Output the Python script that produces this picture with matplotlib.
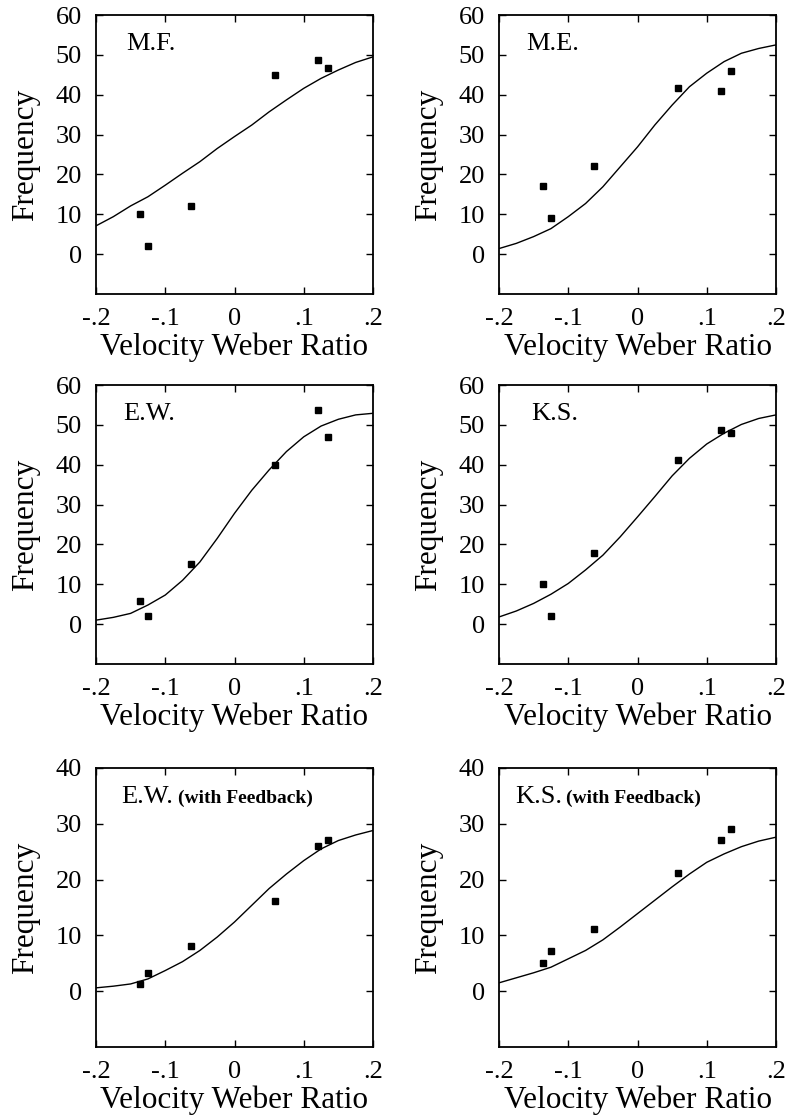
import numpy as np
import matplotlib
matplotlib.use("Agg")
import matplotlib.pyplot as plt

plt.rcParams['font.family'] = ['Liberation Serif', 'DejaVu Serif']

# stimulus levels (velocity Weber ratio)
pts_x = [-0.136, -0.125, -0.063, 0.059, 0.121, 0.135]

# observed frequencies per panel
mf_obs = [10.1, 2.0, 12.1, 44.9, 48.7, 46.8]
me_obs = [17.2, 9.0, 22.1, 41.8, 41.0, 46.0]
ew_obs = [5.9, 2.0, 15.2, 40.0, 53.8, 46.9]
ks_obs = [10.1, 2.0, 17.9, 41.1, 48.7, 48.0]
ewfb_obs = [1.3, 3.2, 8.1, 16.1, 26.1, 27.1]
ksfb_obs = [5.1, 7.2, 11.2, 21.1, 27.1, 29.1]

# fitted curves
curve_x = [-0.2, -0.175, -0.15, -0.125, -0.1, -0.075, -0.05, -0.025, 0.0,
           0.025, 0.05, 0.075, 0.1, 0.125, 0.15, 0.175, 0.2]
mf_fit = [7.1, 9.4, 12.1, 14.4, 17.3, 20.3, 23.2, 26.5, 29.5,
          32.4, 35.7, 38.7, 41.6, 44.1, 46.2, 48.1, 49.5]
me_fit = [1.4, 2.7, 4.4, 6.4, 9.4, 12.7, 16.9, 21.9, 26.9,
          32.4, 37.4, 42.0, 45.4, 48.3, 50.4, 51.6, 52.5]
ew_fit = [1.0, 1.7, 2.7, 4.8, 7.3, 11.0, 15.6, 21.5, 27.8,
          33.6, 38.7, 43.3, 47.0, 49.7, 51.4, 52.5, 52.9]
ks_fit = [1.8, 3.3, 5.2, 7.5, 10.2, 13.6, 17.3, 21.9, 26.9,
          32.0, 37.2, 41.6, 45.2, 47.9, 50.1, 51.6, 52.5]
ewfb_fit = [0.6, 0.9, 1.3, 2.2, 3.7, 5.3, 7.3, 9.7, 12.4,
            15.4, 18.4, 21.0, 23.4, 25.5, 27.0, 28.0, 28.8]
ksfb_fit = [1.5, 2.4, 3.3, 4.3, 5.8, 7.3, 9.2, 11.5, 13.9,
            16.3, 18.7, 21.0, 23.1, 24.6, 25.9, 26.9, 27.6]

names = ["M.F.", "M.E.", "E.W.", "K.S.", "E.W.", "K.S."]
extras = ["", "", "", "", "(with Feedback)", "(with Feedback)"]
observed = [mf_obs, me_obs, ew_obs, ks_obs, ewfb_obs, ksfb_obs]
fitted = [mf_fit, me_fit, ew_fit, ks_fit, ewfb_fit, ksfb_fit]
ymaxes = [60, 60, 60, 60, 40, 40]

xticks = [-0.2, -0.1, 0, 0.1, 0.2]
xticklabels = ["-.2", "-.1", "0", ".1", ".2"]

# where the panel names sit (axes fraction)
name_x = [0.11, 0.1, 0.1, 0.115, 0.09, 0.06]
extra_x = [0, 0, 0, 0, 0.297, 0.243]

fig = plt.figure(figsize=(7.86, 11.15), dpi=100)

W, H = 786, 1115
col_left = [96, 499]
row_top = [15, 385, 768]
aw, ah = 277, 279

for i in range(6):
    r, c = divmod(i, 2)
    ymax = ymaxes[i]
    left = col_left[c] / W
    bottom = 1 - (row_top[r] + ah) / H
    ax = fig.add_axes([left, bottom, aw / W, ah / H])

    ax.plot(curve_x, fitted[i], color="black", lw=1.0)
    ax.plot(pts_x, observed[i], "s", color="black", ms=4.2)

    ax.set_xlim(-0.2, 0.2)
    ax.set_ylim(-10, ymax)
    ax.set_xticks(xticks)
    ax.set_xticklabels(xticklabels)
    ax.set_yticks(np.arange(0, ymax + 1, 10))
    ax.tick_params(direction="in", length=5, width=1, top=True, right=True,
                   labelsize=19)
    ax.tick_params(axis="x", pad=10)
    ax.tick_params(axis="y", pad=10)
    for s in ax.spines.values():
        s.set_linewidth(1.3)

    ax.set_xlabel("Velocity Weber Ratio", fontsize=22.5, labelpad=2)
    ax.set_ylabel("Frequency", fontsize=22.5, labelpad=11)

    ax.text(name_x[i], 0.895, names[i], transform=ax.transAxes, fontsize=19,
            va="center", ha="left")
    if extras[i]:
        ax.text(extra_x[i], 0.89, extras[i], transform=ax.transAxes,
                fontsize=14, fontweight="bold", va="center", ha="left")

fig.savefig("out.png", dpi=100)
